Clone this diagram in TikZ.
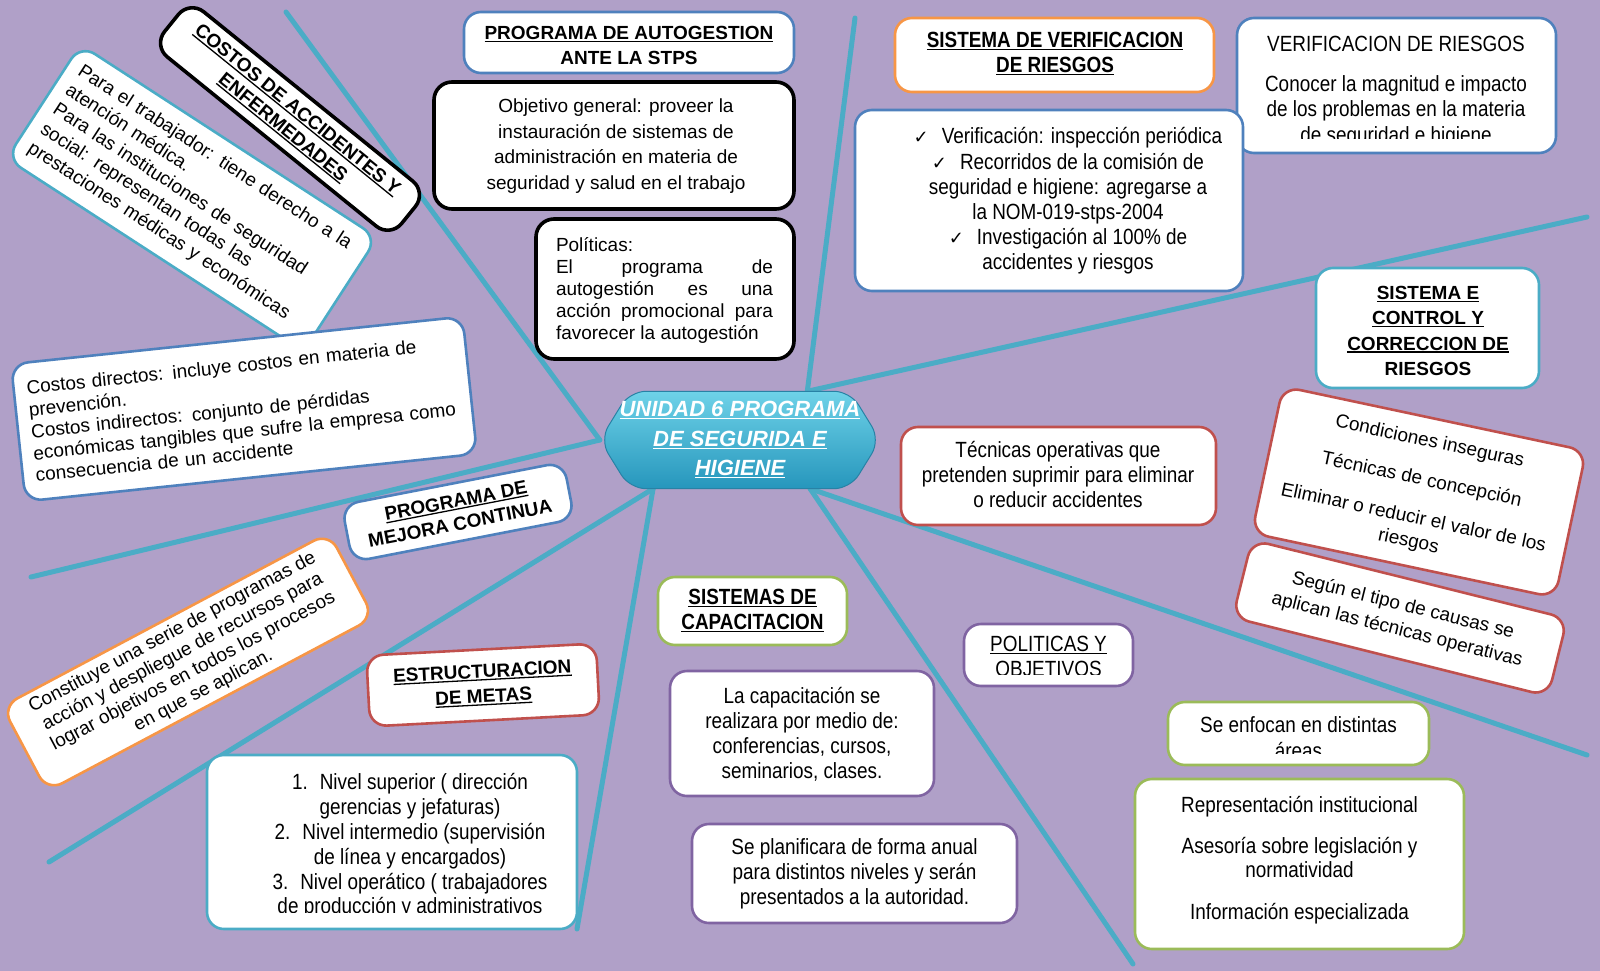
\documentclass[tikz,border=0pt]{standalone}
\usepackage{fontspec}
\setmainfont{Liberation Sans}
\newfontfamily\narrowfont[FakeStretch=0.86]{Liberation Sans}
\newfontfamily\symfont{DejaVu Sans}
\newcommand{\myul}[1]{\setbox0\hbox{#1}\rlap{\rule[-2.6pt]{\wd0}{1.3pt}}\box0}
\usetikzlibrary{calc}
\pgfdeclarelayer{bgl}
\pgfdeclarelayer{linel}
\pgfsetlayers{bgl,linel,main}
\definecolor{bgpurple}{RGB}{176,160,200}
\definecolor{lineteal}{RGB}{75,172,198}
\definecolor{bBlue}{RGB}{79,129,189}
\definecolor{bTeal}{RGB}{75,172,198}
\definecolor{bRed}{RGB}{192,80,77}
\definecolor{bOrange}{RGB}{247,150,70}
\definecolor{bGreen}{RGB}{155,187,89}
\definecolor{bPurple}{RGB}{128,100,162}
\definecolor{cTop}{RGB}{110,210,232}
\definecolor{cBot}{RGB}{38,150,188}
\definecolor{cEdge}{RGB}{40,130,165}
\begin{document}
\begin{tikzpicture}[x=1pt,y=-1pt,
  conn/.style={line width=5pt, draw=lineteal, line cap=round},
  box/.style={draw=#1, fill=white, rounded corners=17pt, line width=2.6pt, inner sep=0pt},
  blackbox/.style={draw=black, fill=white, rounded corners=18pt, line width=3.6pt, inner sep=0pt},
  txt/.style={align=center, inner sep=0pt, font=\fontsize{19}{25}\selectfont},
  btxt/.style={align=center, inner sep=0pt, font=\bfseries\fontsize{19}{25}\selectfont},
  ntxt/.style={align=center, inner sep=0pt, font=\narrowfont\fontsize{22}{25}\selectfont},
  nbtxt/.style={align=center, inner sep=0pt, font=\narrowfont\bfseries\fontsize{22}{25}\selectfont}]
\useasboundingbox (0,0) rectangle (1600,971);
\begin{pgfonlayer}{bgl}
\fill[bgpurple] (0,0) rectangle (1600,971);
\end{pgfonlayer}

% central node
\node[minimum width=280pt, minimum height=97pt, inner sep=0pt, align=center, text=white,
  font=\bfseries\itshape\fontsize{22}{29.5}\selectfont] (c) at (740,440)
  {\myul{UNIDAD 6 PROGRAMA}\\\myul{DE SEGURIDA E}\\\myul{HIGIENE}};

\coordinate (e1) at (286,12);
\coordinate (e2) at (31,577);
\coordinate (e3) at (49,862);
\coordinate (e4) at (577,929);
\coordinate (e5) at (1133,964);
\coordinate (e6) at (1587,755);
\coordinate (e7) at (1587,217);
\coordinate (e8) at (855,18);

\begin{pgfonlayer}{linel}
\coordinate (sB1) at ($(c.south west)!0.19!(c.south east)$);
\coordinate (sB2) at ($(c.south west)!0.75!(c.south east)$);
\coordinate (sT) at ($(c.north west)!0.74!(c.north east)$);
\draw[conn] (c.west) -- (e1);
\draw[conn] (c.west) -- (e2);
\draw[conn] (sB1) -- (e3);
\draw[conn] (sB1) -- (e4);
\draw[conn] (sB2) -- (e5);
\draw[conn] (sB2) -- (e6);
\draw[conn] (sT) -- (e7);
\draw[conn] (sT) -- (e8);
\shade[top color=cTop, bottom color=cBot, draw=cEdge, line width=1pt, rounded corners=16pt]
  (c.west) -- ($(c.north west)+(30,0)$) -- ($(c.north east)+(-30,0)$) -- (c.east)
  -- ($(c.south east)+(-30,0)$) -- ($(c.south west)+(30,0)$) -- cycle;
\end{pgfonlayer}

% ---------- left side ----------
\node[box=bTeal, rotate=-33, minimum width=354pt, minimum height=134pt, text width=328pt,
  align=left, inner sep=13pt, font=\fontsize{19}{23}\selectfont] (para) at (192,198)
  {Para el trabajador: tiene derecho a la\\atención médica.\\Para las instituciones de seguridad\\social: representan todas las\\prestaciones médicas y económicas};

\node[blackbox, rotate=-39, minimum width=305pt, minimum height=58pt, align=center,
  font=\bfseries\fontsize{19}{23}\selectfont] (costos) at (290,119)
  {\myul{COSTOS DE ACCIDENTES Y}\\\myul{ENFERMEDADES}};

\node[box=bBlue, rotate=6, minimum width=454pt, minimum height=138pt, text width=428pt,
  align=left, inner sep=13pt, font=\fontsize{19}{22}\selectfont] (directos) at (244,409)
  {Costos directos: incluye costos en materia de\\prevención.\\Costos indirectos: conjunto de pérdidas\\económicas tangibles que sufre la empresa como\\consecuencia de un accidente};

\node[box=bBlue, rotate=11, minimum width=226pt, minimum height=58pt, align=center,
  font=\bfseries\fontsize{19}{23}\selectfont] (mejora) at (458,512)
  {\myul{PROGRAMA DE}\\MEJORA CONTINUA};

\node[box=bOrange, rotate=28, minimum width=370pt, minimum height=96pt, align=center,
  font=\fontsize{19}{22}\selectfont] (constituye) at (188,662)
  {Constituye una serie de programas de\\acción y despliegue de recursos para\\lograr objetivos en todos los procesos\\en que se aplican.};

\node[box=bRed, rotate=3, minimum width=230pt, minimum height=71pt, align=center,
  font=\bfseries\fontsize{19}{25}\selectfont] (metas) at (483,685)
  {\myul{ESTRUCTURACION}\\\myul{DE METAS}};

\node[box=bTeal, minimum width=370pt, minimum height=174pt] (nivB) at (392,842) {};
\begin{scope}
\clip (207,755) rectangle (577,912);
\node[ntxt, font=\narrowfont\fontsize{22}{24.8}\selectfont] (nivT) at (410,846)
  {1.\hspace{12pt}Nivel superior ( dirección\\gerencias y jefaturas)\\2.\hspace{12pt}Nivel intermedio (supervisión\\de línea y encargados)\\3.\hspace{12pt}Nivel operático ( trabajadores\\de producción y administrativos};
\end{scope}

% ---------- top middle ----------
\node[box=bBlue, minimum width=330pt, minimum height=61pt] (autoB) at (629,42.5) {};
\node[btxt] (autoT) at (629,45.5) {\myul{PROGRAMA DE AUTOGESTION}\\ANTE LA STPS};

\node[blackbox, minimum width=360pt, minimum height=127pt] (objB) at (614,145.5) {};
\node[txt, font=\fontsize{19}{25.6}\selectfont] (objT) at (616,146)
  {Objetivo general: proveer la\\instauración de sistemas de\\administración en materia de\\seguridad y salud en el trabajo};

\node[blackbox, minimum width=258pt, minimum height=140pt] (polB) at (665,289) {};
\node[inner sep=0pt, font=\fontsize{19}{22}\selectfont] (polT) at (664.5,290)
  {\parbox{217pt}{Políticas:\\El\hfill programa\hfill de\\autogestión\hfill es\hfill una\\acción\hfill promocional\hfill para\\favorecer la autogestión}};

% ---------- top right ----------
\node[box=bOrange, minimum width=319pt, minimum height=74pt] (sverB) at (1054.5,55) {};
\node[nbtxt] (sverT) at (1055,54) {\myul{SISTEMA DE VERIFICACION}\\\myul{DE RIESGOS}};

\node[box=bBlue, minimum width=319pt, minimum height=135pt] (vrB) at (1396.5,85.5) {};
\node[ntxt] (vrTitle) at (1396,44) {VERIFICACION DE RIESGOS};
\begin{scope}
\clip (1237,60) rectangle (1556,139);
\node[ntxt, font=\narrowfont\fontsize{22}{25.5}\selectfont] (vrBody) at (1396,111)
  {Conocer la magnitud e impacto\\de los problemas en la materia\\de seguridad e higiene};
\end{scope}

\node[box=bBlue, minimum width=388pt, minimum height=181pt] (vlB) at (1049,200.5) {};
\node[ntxt, font=\narrowfont\fontsize{22}{25.2}\selectfont] (vlT) at (1068,201)
  {{\symfont\fontsize{18}{25}\selectfont ✓}\hspace{13pt}Verificación: inspección periódica\\
   {\symfont\fontsize{18}{25}\selectfont ✓}\hspace{13pt}Recorridos de la comisión de\\
   seguridad e higiene: agregarse a\\la NOM-019-stps-2004\\
   {\symfont\fontsize{18}{25}\selectfont ✓}\hspace{13pt}Investigación al 100\% de\\accidentes y riesgos};

\node[box=bTeal, minimum width=223pt, minimum height=120pt] (sctrlB) at (1427.5,328) {};
\node[btxt, font=\bfseries\fontsize{19}{25.3}\selectfont] (sctrlT) at (1428,331)
  {\myul{SISTEMA E}\\\myul{CONTROL Y}\\\myul{CORRECCION DE}\\RIESGOS};

\node[box=bRed, minimum width=315pt, minimum height=98pt] (tecB) at (1058.5,476) {};
\node[ntxt] (tecT) at (1058,475) {Técnicas operativas que\\pretenden suprimir para eliminar\\o reducir accidentes};

\node[box=bRed, rotate=-14, minimum width=325pt, minimum height=80pt, align=center,
  font=\fontsize{19}{25}\selectfont] (segun) at (1400,618)
  {Según el tipo de causas se\\aplican las técnicas operativas};

\node[box=bRed, rotate=-12, minimum width=310pt, minimum height=150pt, align=center,
  font=\fontsize{19}{24}\selectfont] (cond) at (1419,492)
  {Condiciones inseguras\\[15pt]Técnicas de concepción\\[15pt]Eliminar o reducir el valor de los\\riesgos};

% ---------- bottom middle / right ----------
\node[box=bGreen, minimum width=189pt, minimum height=68pt] (capB) at (752.5,611) {};
\node[nbtxt] (capTitle) at (752.5,610.5) {\myul{SISTEMAS DE}\\\myul{CAPACITACION}};

\node[box=bPurple, minimum width=169pt, minimum height=62pt] (poB) at (1048.5,655) {};
\begin{scope}
\clip (964,624) rectangle (1133,674);
\node[ntxt] (poT) at (1048.5,657.5) {\myul{POLITICAS Y}\\\myul{OBJETIVOS}};
\end{scope}

\node[box=bPurple, minimum width=264pt, minimum height=125pt] (cpB) at (802,733.5) {};
\node[ntxt] (cpT) at (802,734.5) {La capacitación se\\realizara por medio de:\\conferencias, cursos,\\seminarios, clases.};

\node[box=bPurple, minimum width=325pt, minimum height=99pt] (plB) at (854.5,873.5) {};
\node[ntxt] (plT) at (854.5,874) {Se planificara de forma anual\\para distintos niveles y serán\\presentados a la autoridad.};

\node[box=bGreen, minimum width=261pt, minimum height=63pt] (enB) at (1298.5,733.5) {};
\begin{scope}
\clip (1168,702) rectangle (1429,753);
\node[ntxt, font=\narrowfont\fontsize{22}{26}\selectfont] (enT) at (1298.5,738) {Se enfocan en distintas\\áreas};
\end{scope}

\node[box=bGreen, minimum width=329pt, minimum height=170pt] (reB) at (1299.5,864) {};
\node[ntxt, font=\narrowfont\fontsize{22}{24}\selectfont] (reT) at (1299.5,860)
  {Representación institucional\\[17pt]Asesoría sobre legislación y\\normatividad\\[18pt]Información especializada};
\end{tikzpicture}
\end{document}
